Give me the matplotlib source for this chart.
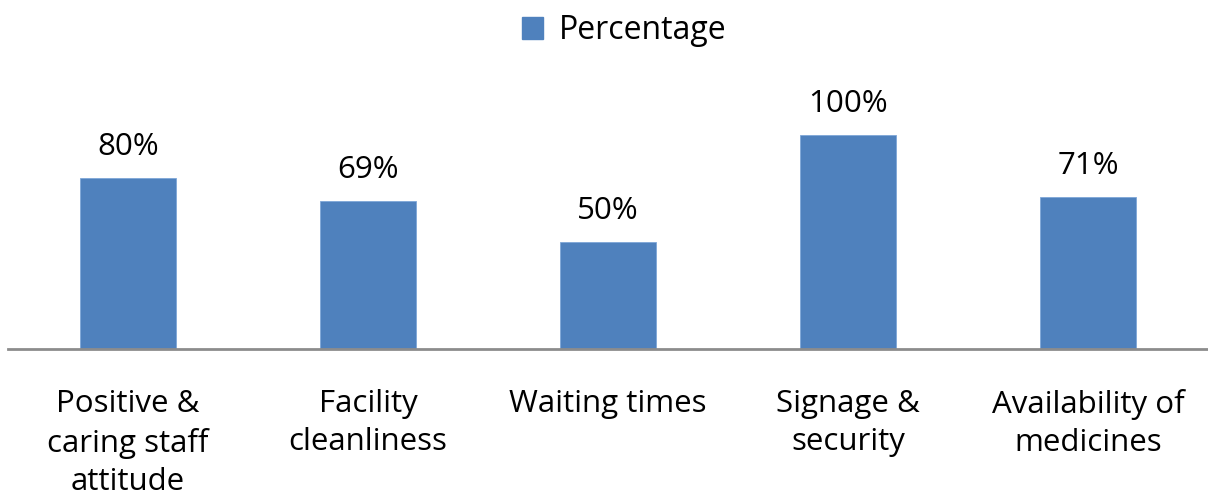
import matplotlib.pyplot as plt
from matplotlib.patches import Patch

categories = ['Positive &\ncaring staff\nattitude', 'Facility\ncleanliness', 'Waiting times',
              'Signage &\nsecurity', 'Availability of\nmedicines']
percentages = [80, 69, 50, 100, 71]
labels = ['80%', '69%', '50%', '100%', '71%']

plt.rcParams['font.family'] = ['Open Sans', 'DejaVu Sans']

fig = plt.figure(figsize=(12.08, 4.95), dpi=100)
ax = fig.add_axes([8 / 1208, (495 - 349) / 495, 1200 / 1208, 257 / 495])

x = range(len(categories))
bars = ax.bar(x, percentages, width=0.4, color='#4F81BD', edgecolor='#7EA6D8', linewidth=0.6,
              label='Percentage')
for b, t in zip(bars, labels):
    ax.text(b.get_x() + b.get_width() / 2, b.get_height() + 7.5, t,
            ha='center', va='bottom', fontsize=22.5)

ax.set_xlim(-0.5, 4.5)
ax.set_ylim(0, 120)
ax.set_xticks(list(x))
ax.set_xticklabels(categories, fontsize=22.5, linespacing=1.35)
ax.tick_params(axis='x', length=0, pad=29)
ax.set_yticks([])
for s in ['top', 'right', 'left']:
    ax.spines[s].set_visible(False)
ax.spines['bottom'].set_color('#8C8C8C')
ax.spines['bottom'].set_linewidth(2)

fig.legend(handles=[Patch(color='#4F81BD', label='Percentage')], loc='upper center',
           bbox_to_anchor=(0.517, 1.03), frameon=False, fontsize=23,
           handlelength=0.65, handleheight=0.7, handletextpad=0.5)

fig.savefig('out.png', dpi=100)
